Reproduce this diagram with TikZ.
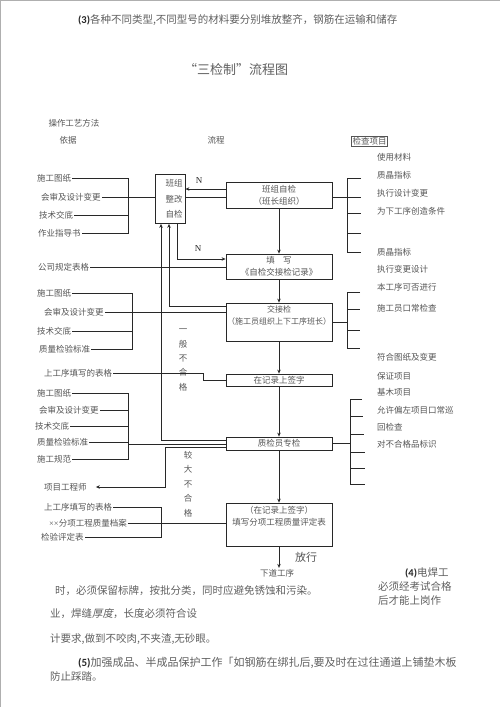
\documentclass[tikz,border=0pt]{standalone}
\usepackage{fontspec}
\setmainfont{Liberation Serif}
\newfontfamily\cjk{Noto Sans CJK SC}
\newfontfamily\cjkslant[FakeSlant=0.2]{Noto Sans CJK SC}
\newfontfamily\numfont{Carlito}
\usetikzlibrary{arrows.meta, positioning, calc}
\definecolor{colorText}{RGB}{85,85,85}
\definecolor{colorBody}{RGB}{95,95,95}
\definecolor{colorLine}{RGB}{40,40,40}
\definecolor{colorFrame}{RGB}{175,175,175}

\begin{document}
\begin{tikzpicture}[
    x=1pt, y=-1pt,
    every node/.style={font=\cjk\fontsize{8.5}{10}\selectfont, text=colorText, inner sep=1pt},
    basis/.style={anchor=west},
    checkitem/.style={anchor=west},
    flowbox/.style={
        draw=colorLine, line width=0.8pt, minimum width=106pt, align=center,
        inner sep=0pt, font=\cjk\fontsize{8.5}{12}\selectfont
    },
    boxtext/.style={align=center, anchor=north, font=\cjk\fontsize{8.5}{12}\selectfont},
    vtext/.style={align=center, font=\cjk\fontsize{8.5}{14.4}\selectfont},
    nmark/.style={font=\rmfamily\fontsize{9}{10}\selectfont, text=colorLine},
    bodytext/.style={anchor=west, font=\cjk\fontsize{10.5}{14}\selectfont, text=colorBody},
    link/.style={draw=colorLine, line width=0.9pt},
    arrow/.style={link, -{Stealth[length=4pt, width=3.5pt]}}
]
    \useasboundingbox (0,0) rectangle (500,707);
    \draw[colorFrame, line width=1pt] (0.5,707) -- (0.5,0.5) -- (500,0.5);

    % text above the chart
    \node[bodytext] (para3) at (77,20) {{\numfont\bfseries\color{colorLine}(3)}各种不同类型,不同型号的材料要分别堆放整齐，钢筋在运输和储存};
    \node[font=\cjk\fontsize{13}{14}\selectfont, text=colorBody] (title) at (236,70) {“三检制”流程图};

    % headings
    \node (method) at (74,123) {操作工艺方法};
    \node (basisHead) at (68,140) {依据};
    \node (flowHead) at (216,140) {流程};
    \node[draw=colorText, line width=0.5pt, inner sep=1pt] (checkHead) at (369.5,141) {检查项目};

    % flow boxes
    \node[flowbox, minimum width=30pt, minimum height=49pt, text width=25pt, align=right,
        inner xsep=2pt, font=\cjk\fontsize{8.5}{15.5}\selectfont] (rework) at (170,199) {班组\\整改\\自检};
    \node[flowbox, minimum height=26pt] (selfcheck) at (279,195) {班组自检\\（班长组织）};
    \node[flowbox, minimum height=25pt] (record) at (279,266.5) {填\quad 写\\《自检交接检记录》};
    \node[flowbox, minimum height=38pt] (handover) at (279,322) {};
    \node[boxtext, font=\cjk\fontsize{8}{12}\selectfont] (handoverText) at (handover.north |- 0,305) {交接检\\（施工员组织上下工序班长）};
    \node[flowbox, minimum height=12pt] (sign) at (279,380) {在记录上签字};
    \node[flowbox, minimum height=13pt] (inspect) at (279,443.5) {质检员专检};
    \node[flowbox, minimum height=43pt] (evaluate) at (279,524.5) {};
    \node[boxtext] (evaluateText) at (evaluate.north |- 0,505) {（在记录上签字）\\填写分项工程质量评定表};
    \node[font=\cjk\fontsize{11}{12}\selectfont] (release) at (306,557) {放行};
    \node (nextStep) at (277,573) {下道工序};

    \node[nmark] (nUpper) at (199,181) {N};
    \node[nmark] (nLower) at (198,249) {N};
    \node[vtext] (minorFail) at (183,360) {一\\般\\不\\合\\格};
    \node[vtext] (majorFail) at (188,484) {较\\大\\不\\合\\格};

    % main flow
    \draw[arrow] (selfcheck.south) -- (record.north);
    \draw[arrow] (record.south) -- (handover.north);
    \draw[arrow] (handover.south) -- (sign.north);
    \draw[arrow] (sign.south) -- (inspect.north);
    \draw[arrow] (inspect.south) -- (evaluate.north);
    \draw[arrow] (evaluate.south) -- (evaluate.south |- nextStep.north);

    % returns to rework
    \draw[arrow] (selfcheck.west |- 0,189) -- (rework.east |- 0,189);
    \draw[link] (rework.east |- 0,197) -- (selfcheck.west |- 0,197);
    \draw[arrow] (rework.south -| 177,0) |- (record.west |- 0,259);
    \draw[arrow] (handover.west |- 0,306) -| (rework.south -| 169,0);
    \draw[arrow] (inspect.west |- 0,440) -| (rework.south -| 161,0);

    % basis: group A
    \node[basis] (drawingA) at (36,178) {施工图纸};
    \node[basis] (reviewA) at (40,197) {会审及设计变更};
    \node[basis] (techA) at (38,215) {技术交底};
    \node[basis] (guideA) at (37,233) {作业指导书};
    \draw[link] (drawingA.east) -- (drawingA.east -| 128,0) -- (guideA.east -| 128,0) -- (guideA.east);
    \draw[link] (techA.east) -- (techA.east -| 128,0);
    \draw[link] (reviewA.east) -- (rework.west |- reviewA.east);

    \node[basis] (companyForm) at (37,267) {公司规定表格};
    \draw[link] (companyForm.east) -- (record.west |- companyForm.east);

    % basis: group B
    \node[basis] (drawingB) at (36,293) {施工图纸};
    \node[basis] (reviewB) at (43,312) {会审及设计变更};
    \node[basis] (techB) at (36,331) {技术交底};
    \node[basis] (standardB) at (38,349) {质量检验标准};
    \draw[link] (drawingB.east) -- (drawingB.east -| 132,0) -- (standardB.east -| 132,0) -- (standardB.east);
    \draw[link] (techB.east) -- (techB.east -| 132,0);
    \draw[link] (reviewB.east) -- (handover.west |- reviewB.east);

    \node[basis] (prevFormA) at (43,373) {上工序填写的表格};
    \draw[link] (prevFormA.east) -- (prevFormA.east -| 203,0) |- (sign.west);

    % basis: group C
    \node[basis] (drawingC) at (36,393) {施工图纸};
    \node[basis] (reviewC) at (38,410) {会审及设计变更};
    \node[basis] (techC) at (34,426) {技术交底};
    \node[basis] (standardC) at (36,442) {质量检验标准};
    \node[basis] (codeC) at (36,459) {施工规范};
    \draw[link] (drawingC.east) -- (drawingC.east -| 128,0) -- (codeC.east -| 128,0) -- (codeC.east);
    \draw[link] (reviewC.east) -- (reviewC.east -| 128,0);
    \draw[link] (techC.east) -- (techC.east -| 128,0);
    \draw[link] (standardC.east) -- (standardC.east -| 128,0);
    \draw[link] (inspect.west |- 0,444) -- (128,444);

    \node[basis] (engineer) at (43,487) {项目工程师};
    \draw[arrow] (inspect.west |- 0,447) -- (165,447) |- ([xshift=8pt]engineer.east);

    % basis: group D
    \node[basis] (prevFormB) at (43,507) {上工序填写的表格};
    \node[basis] (archive) at (48,523) {{\rmfamily ××}分项工程质量档案};
    \node[basis] (evalForm) at (40,537) {检验评定表};
    \draw[link] (prevFormB.east) -- (prevFormB.east -| 161,0) -- (evalForm.east -| 161,0) -- (evalForm.east);
    \draw[link] (archive.east) -- (evaluate.west |- archive.east);

    % check items
    \node[checkitem] (checkA1) at (376,157) {使用材料};
    \node[checkitem] (checkA2) at (376,175) {质晶指标};
    \node[checkitem] (checkA3) at (376,193) {执行设计变更};
    \node[checkitem] (checkA4) at (376,211) {为下工序创造条件};
    \node[checkitem] (checkA5) at (376,252) {质晶指标};
    \node[checkitem] (checkB1) at (376,269) {执行变更设计};
    \node[checkitem] (checkB2) at (376,287) {本工序可否进行};
    \node[checkitem] (checkB3) at (376,308) {施工员口常检查};
    \node[checkitem] (checkC1) at (376,357) {符合图纸及变更};
    \node[checkitem] (checkC2) at (376,376) {保证项目};
    \node[checkitem] (checkC3) at (376,392) {基木项目};
    \node[checkitem] (checkC4) at (376,410) {允许偏左项目口常巡};
    \node[checkitem] (checkC5) at (376,427) {回检查};
    \node[checkitem] (checkC6) at (376,444) {对不合格品标识};

    % check brackets
    \draw[link] (selfcheck.east |- 0,197) -- (347,197);
    \draw[link] (361,178) -- (347,178) -- (347,252) -- (361,252);
    \draw[link] (347,197) -- (361,197);
    \draw[link] (347,213) -- (361,213);
    \draw[link] (347,233) -- (361,233);

    \draw[link] (handover.east |- 0,322) -- (347,322);
    \draw[link] (360,292) -- (347,292) -- (347,348) -- (360,348);
    \draw[link] (347,309) -- (360,309);
    \draw[link] (347,330) -- (360,330);

    \draw[link] (inspect.east) -- (inspect.east -| 350,0);
    \draw[link] (362,399) -- (350,399) -- (350,484) -- (365,484);
    \draw[link] (350,416) -- (363,416);
    \draw[link] (350,434) -- (364,434);
    \draw[link] (350,452) -- (365,452);
    \draw[link] (350,468) -- (365,468);

    % text below the chart
    \node[anchor=north west, align=left, font=\cjk\fontsize{10.5}{14}\selectfont, text=colorBody] (para4) at (377,566)
        {\hspace*{27pt}{\numfont\bfseries\color{colorLine}(4)}电焊工\\必须经考试合格\\后才能上岗作};
    \node[bodytext] (lineA) at (54,591) {时，必须保留标牌，按批分类，同时应避免锈蚀和污染。};
    \node[bodytext] (lineB) at (49,614) {业，焊缝{\cjkslant 厚度}，长度必须符合设};
    \node[bodytext] (lineC) at (49,639) {计要求,做到不咬肉,不夹渣,无砂眼。};
    \node[bodytext, font=\cjk\fontsize{11}{14}\selectfont] (para5) at (77,663) {{\numfont\bfseries\color{colorLine}(5)}加强成品、半成品保护工作「如钢筋在绑扎后,要及时在过往通道上铺垫木板};
    \node[bodytext] (lineD) at (49,677) {防止踩踏。};
\end{tikzpicture}
\end{document}
